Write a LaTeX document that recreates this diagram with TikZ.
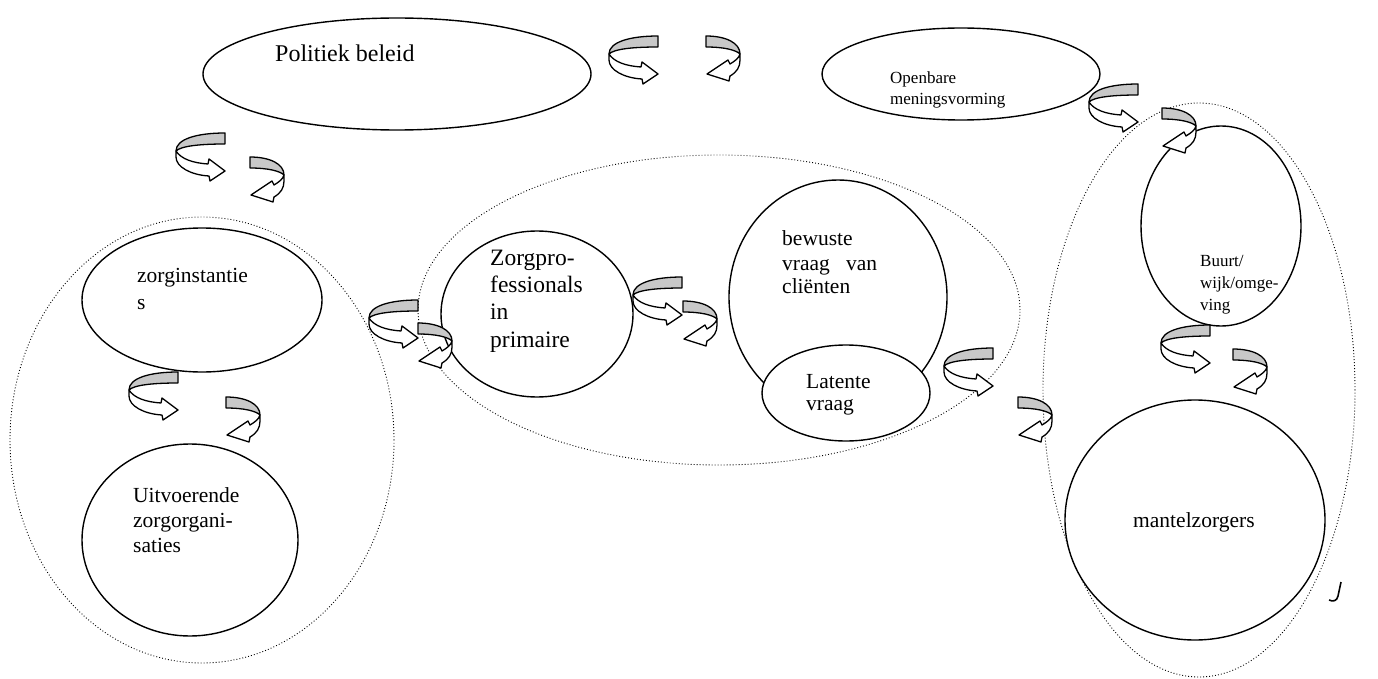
\documentclass[tikz,border=0pt]{standalone}
\usepackage{fontspec}
\setmainfont{Liberation Serif}
\usetikzlibrary{shapes.geometric}
\definecolor{bandgray}{RGB}{200,200,200}
\tikzset{
  arrowline/.style={line width=1.3pt, line join=round},
  larr/.pic={
    \filldraw[arrowline, fill=bandgray] (0,0) .. controls (-28,0) and (-49,6) .. (-49,18)
      .. controls (-44,13) and (-25,11) .. (0,11) -- cycle;
    \filldraw[arrowline, fill=white] (-49,18) .. controls (-44,26) and (-32,30) .. (-17,31)
      -- (-16,26) -- (0,38) -- (-15,48) -- (-16,43)
      .. controls (-34,42) and (-49,34) .. (-49,24) -- cycle;
  },
  rarr/.pic={
    \filldraw[arrowline, fill=bandgray] (0,0) .. controls (20,0) and (34,7) .. (34,18)
      .. controls (30,14) and (18,11) .. (0,11) -- cycle;
    \filldraw[arrowline, fill=white] (34,18) .. controls (33,22) and (29,25) .. (24,28)
      -- (22,24) -- (1,38) -- (23,45) -- (24,40)
      .. controls (31,36) and (34,31) .. (34,24) -- cycle;
  }
}
\begin{document}
\begin{tikzpicture}[x=1pt,y=-1pt,
  ring/.style={draw, line width=1.4pt, fill=white, ellipse, inner sep=0pt},
  dotring/.style={draw, line width=0.9pt, dash pattern=on 0.9pt off 2.1pt, ellipse, inner sep=0pt},
  lbl/.style={anchor=base west, inner sep=0pt},
  fbig/.style={lbl, font=\fontsize{23.5}{28}\selectfont},
  fmid/.style={lbl, font=\fontsize{21.5}{26}\selectfont},
  fsmall/.style={lbl, font=\fontsize{17}{21}\selectfont}]
\useasboundingbox (0,0) rectangle (1378,679);

% dotted groupings
\node[dotring, minimum width=384pt, minimum height=446pt] (dotL) at (202,440) {};
\node[dotring, minimum width=602pt, minimum height=310pt] (dotM) at (719,310) {};
\node[dotring, minimum width=312pt, minimum height=574pt] (dotR) at (1199,390) {};

% solid shapes
\node[ring, minimum width=388pt, minimum height=112pt] (pol) at (397,74) {};
\node[ring, minimum width=278pt, minimum height=92pt] (open) at (961,74) {};
\node[ring, minimum width=240pt, minimum height=144pt] (zinst) at (202,300) {};
\node[ring, minimum width=216pt, minimum height=192pt] (uitv) at (190,540) {};
\node[ring, minimum width=192pt, minimum height=166pt] (zprof) at (537,314) {};
\node[ring, minimum width=218pt, minimum height=234pt] (bew) at (838,297) {};
\node[ring, minimum width=168pt, minimum height=96pt] (lat) at (846,393) {};
\node[ring, minimum width=160pt, minimum height=200pt] (buurt) at (1221,226) {};
\node[ring, minimum width=260pt, minimum height=240pt] (mantel) at (1195,520) {};

% curved arrows
\pic (a1l) at (658,36) {larr};   \pic (a1r) at (706,36) {rarr};
\pic (a2l) at (225,133) {larr};  \pic (a2r) at (250,157) {rarr};
\pic (a3l) at (418,300) {larr};  \pic (a3r) at (418,323) {rarr};
\pic (a4l) at (178,372) {larr};  \pic (a4r) at (226,397) {rarr};
\pic (a5l) at (682,277) {larr};  \pic (a5r) at (683,301) {rarr};
\pic (a6l) at (993,348) {larr};  \pic (a6r) at (1018,397) {rarr};
\pic (a7l) at (1138,84) {larr};  \pic (a7r) at (1162,108) {rarr};
\pic (a8l) at (1210,325) {larr}; \pic (a8r) at (1233,349) {rarr};

% texts
\node[lbl, font=\fontsize{24}{28}\selectfont] (tpol) at (275,62) {Politiek beleid};
\node[fsmall] (top1) at (890,84) {Openbare};
\node[fsmall] (top2) at (890,105) {meningsvorming};
\node[fmid] (tzi1) at (137,282) {zorginstantie};
\node[fmid] (tzi2) at (137,309) {s};
\node[fmid] (tuv1) at (133,502) {Uitvoerende};
\node[fmid] (tuv2) at (133,527) {zorgorgani-};
\node[fmid] (tuv3) at (133,552) {saties};
\node[fbig] (tzp1) at (490,265) {Zorgpro-};
\node[fbig] (tzp2) at (490,292) {fessionals};
\node[fbig] (tzp3) at (490,319) {in};
\node[fbig] (tzp4) at (490,347) {primaire};
\node[fmid] (tbw1) at (782,245) {bewuste};
\node[fmid] (tbw2) at (782,270) {vraag\hspace{0.5em} van};
\node[fmid] (tbw3) at (782,293) {cliënten};
\node[fmid] (tlt1) at (806,388) {Latente};
\node[fmid] (tlt2) at (806,410) {vraag};
\node[fsmall] (tbu1) at (1200,266) {Buurt/};
\node[fsmall] (tbu2) at (1200,288) {wijk/omge-};
\node[fsmall] (tbu3) at (1200,310) {ving};
\node[fmid] (tmz) at (1133,527) {mantelzorgers};

% stray glyph fragment
\draw[line width=1.6pt] (1341,582) -- (1338,596) .. controls (1337,601) and (1333,602) .. (1329,600);
\end{tikzpicture}
\end{document}
